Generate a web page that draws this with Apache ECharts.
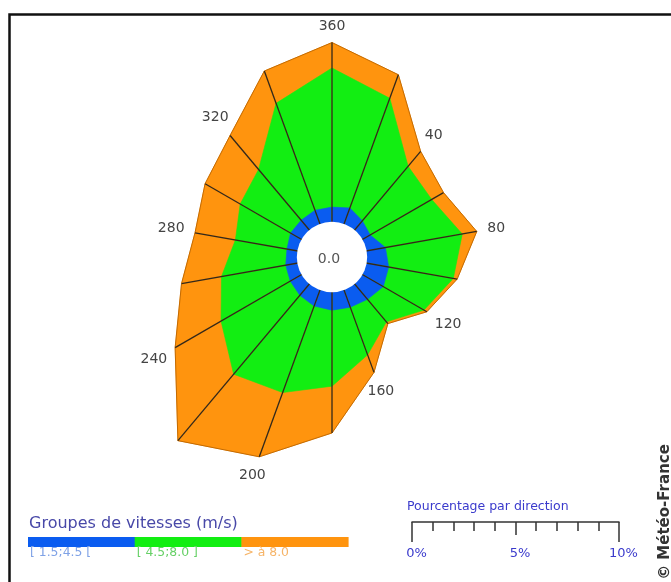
<!DOCTYPE html>
<html><head><meta charset="utf-8">
<script src="https://cdn.jsdelivr.net/npm/echarts@6/dist/echarts.min.js"></script>
<style>html,body{margin:0;padding:0;background:#fff}#c{width:671px;height:582px}</style>
</head><body><div id="c"></div>
<script>
// ---- data ----
const directions = [20, 40, 60, 80, 100, 120, 140, 160, 180, 200, 220, 240, 260, 280, 300, 320, 340, 360];
// percentage per direction and speed group
const pctLow  = [0.82, 0.58, 0.43, 0.92, 1.08, 1.16, 0.97, 0.88, 0.87, 0.82, 0.72, 0.63, 0.57, 0.51, 0.61, 0.62, 0.70, 0.71]; // [1.5;4.5[
const pctMid  = [5.64, 3.44, 3.43, 3.77, 3.17, 2.27, 1.42, 2.45, 3.67, 4.45, 4.97, 3.86, 3.15, 2.53, 2.81, 3.20, 5.50, 6.72]; // [4.5;8.0]
const pctHigh = [1.21, 0.94, 0.66, 0.71, 0.19, 0.16, 0.11, 0.90, 2.26, 3.30, 4.19, 2.56, 1.96, 1.98, 1.96, 2.14, 1.66, 1.23]; // > 8.0
const labelledDirections = [40, 80, 120, 160, 200, 240, 280, 320, 360];
const calmText = '0.0';
const groupLabels = ['[ 1.5;4.5 [', '[ 4.5;8.0 ]', '> à 8.0'];
const scaleMax = 10, scaleStep = 5, scaleMinorSplit = 5;

// ---- styling / layout ----
const BLUE = '#0a5cf0', GREEN = '#12ee12', ORANGE = '#ff940e';
const LABEL_COLORS = ['#7fa2e6', '#66d066', '#f6b468'];
const FONT = 'DejaVu Sans';
const PX_PER_PCT = 20.7;
const RMIN = -1.7, RMAX = 11;
const CX = 332, CY = 257;

const N = directions.length;
const cumLow = pctLow.slice();
const cumMid = pctLow.map((v, i) => v + pctMid[i]);
const cumHigh = cumMid.map((v, i) => v + pctHigh[i]);

const chart = echarts.init(document.getElementById('c'), null, {renderer: 'canvas'});

function fillsItem(params, api) {
  const i = api.value(2), j = (i + 1) % N;
  const a1 = directions[i], a2 = directions[j];
  const c = api.coord([RMIN, a1]);
  const tri = (arr, color) => ({
    type: 'polygon',
    shape: {points: [c, api.coord([arr[i], a1]), api.coord([arr[j], a2])]},
    style: {fill: color, stroke: color, lineWidth: 0.6}
  });
  const p1 = api.coord([cumHigh[i], a1]), p2 = api.coord([cumHigh[j], a2]);
  return {type: 'group', children: [
    tri(cumHigh, ORANGE), tri(cumMid, GREEN), tri(cumLow, BLUE),
    {type: 'line', shape: {x1: p1[0], y1: p1[1], x2: p2[0], y2: p2[1]}, style: {stroke: '#c46a00', lineWidth: 1}}
  ]};
}

function spokesItem(params, api) {
  const i = api.value(2);
  const a = directions[i];
  const c = api.coord([RMIN, a]);
  const p = api.coord([cumHigh[i], a]);
  const children = [{type: 'line', shape: {x1: c[0], y1: c[1], x2: p[0], y2: p[1]}, style: {stroke: '#33281a', lineWidth: 1.3}}];
  if (labelledDirections.indexOf(a) >= 0) {
    const dx = p[0] - c[0], dy = p[1] - c[1];
    const L = Math.sqrt(dx * dx + dy * dy);
    const ux = dx / L, uy = dy / L;
    const txt = String(a);
    const halfW = txt.length * 4.45, halfH = 6;
    const off = 10 + halfW * Math.abs(ux) + halfH * Math.abs(uy);
    children.push({type: 'text', x: p[0] + ux * off, y: p[1] + uy * off,
      style: {text: txt, fill: '#444', font: '14px "' + FONT + '"', align: 'center', verticalAlign: 'middle'}});
  }
  return {type: 'group', children};
}

function holeItem(params, api) {
  const c = api.coord([RMIN, 0]);
  const e = api.coord([0, 0]);
  const r = Math.abs(c[1] - e[1]);
  return {type: 'group', children: [
    {type: 'circle', shape: {cx: c[0], cy: c[1], r: r}, style: {fill: '#fff'}},
    {type: 'text', x: c[0] - 3, y: c[1] + 2, style: {text: calmText, fill: '#555', font: '14px "' + FONT + '"', align: 'center', verticalAlign: 'middle'}}
  ]};
}

const dataRows = directions.map((d, i) => [cumHigh[i], d, i]);

// legend bar graphics
const barX0 = 28, barW = 106.7, barY = 537, barH = 10;
const legendGraphics = [];
[BLUE, GREEN, ORANGE].forEach((col, k) => {
  legendGraphics.push({type: 'rect', left: barX0 + k * barW, top: barY, shape: {width: barW + 0.5, height: barH}, style: {fill: col}});
  legendGraphics.push({type: 'text', left: barX0 + 2 + k * barW, top: 547, style: {text: groupLabels[k], fill: LABEL_COLORS[k], font: '12.4px "' + FONT + '"'}});
});

chart.setOption({
  animation: false,
  backgroundColor: '#fff',
  polar: {center: [CX, CY], radius: (RMAX - RMIN) * PX_PER_PCT},
  radiusAxis: {type: 'value', min: RMIN, max: RMAX, show: false},
  angleAxis: {type: 'value', min: 0, max: 360, startAngle: 90, clockwise: true, show: false},
  grid: {left: 412, top: 521, width: scaleMax * PX_PER_PCT, height: 1},
  xAxis: [
    {type: 'value', gridIndex: 0, min: 0, max: scaleMax, interval: scaleStep, position: 'bottom',
     axisLine: {show: true, lineStyle: {color: '#333', width: 1.5}},
     axisTick: {show: true, length: 13, lineStyle: {color: '#333', width: 1.5}},
     minorTick: {show: true, splitNumber: scaleMinorSplit, length: 9, lineStyle: {color: '#333', width: 1.5}},
     splitLine: {show: false}, minorSplitLine: {show: false},
     axisLabel: {formatter: '{value}%', color: '#3a3acc', fontSize: 13, fontFamily: FONT, margin: 25, padding: [0, 0, 0, 9]}},
    {type: 'value', gridIndex: 0, min: 0, max: scaleMax, interval: scaleMax, position: 'bottom',
     axisLine: {show: false},
     axisTick: {show: true, length: 20, lineStyle: {color: '#333', width: 1.5}},
     splitLine: {show: false}, axisLabel: {show: false}}
  ],
  yAxis: [{type: 'value', gridIndex: 0, min: 0, max: 1, show: false}],
  series: [
    {type: 'custom', coordinateSystem: 'polar', data: dataRows, renderItem: fillsItem, silent: true, z: 1},
    {type: 'custom', coordinateSystem: 'polar', data: dataRows, renderItem: spokesItem, silent: true, z: 2},
    {type: 'custom', coordinateSystem: 'polar', data: [[RMIN, 0, 0]], renderItem: holeItem, silent: true, z: 3}
  ],
  graphic: [
    {type: 'rect', left: 7, top: 12, shape: {width: 720, height: 720}, style: {fill: 'none', stroke: '#111', lineWidth: 2.5}, silent: true},
    {type: 'text', left: 29, top: 516, style: {text: 'Groupes de vitesses (m/s)', fill: '#4848a8', font: '16px "' + FONT + '"'}},
    ...legendGraphics,
    {type: 'text', left: 407, top: 500, style: {text: 'Pourcentage par direction', fill: '#3a3acc', font: '12.5px "' + FONT + '"'}},
    {type: 'text', x: 665, y: 512, rotation: Math.PI / 2, style: {text: '© Météo-France', fill: '#333', font: 'bold 15px "' + FONT + '"', align: 'center', verticalAlign: 'middle'}}
  ]
});
</script></body></html>
